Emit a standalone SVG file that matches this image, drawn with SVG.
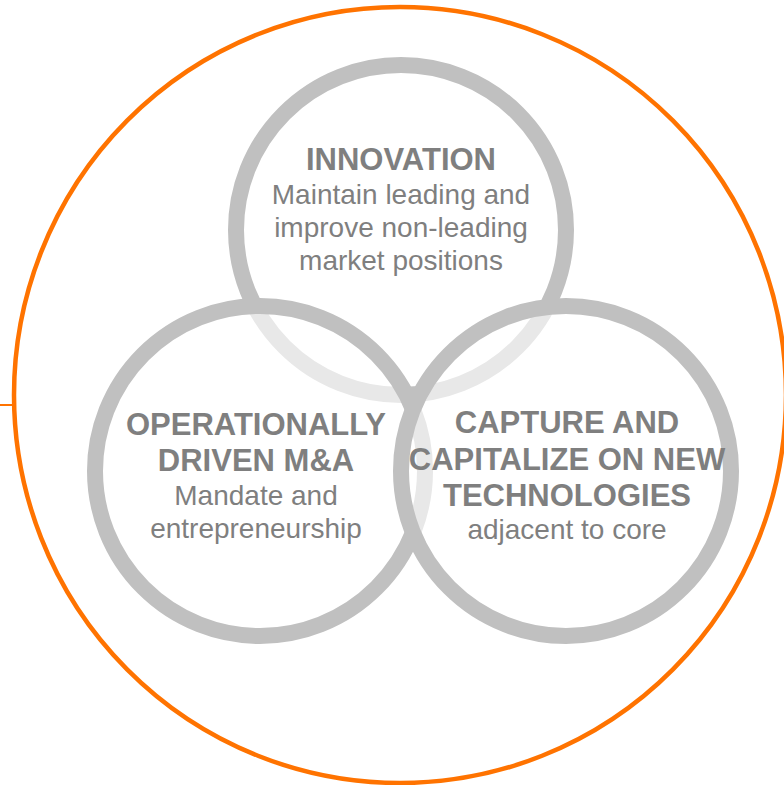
<svg xmlns="http://www.w3.org/2000/svg" width="784" height="785" viewBox="0 0 784 785">
<style>
.ring{fill:#ffffff;fill-opacity:0.63;stroke:#c0c0c0;stroke-width:16}
.h{font-family:"Liberation Sans",Arial,sans-serif;font-weight:bold;font-size:31px;fill:#7f7f7f;text-anchor:middle}
.t{font-family:"Liberation Sans",Arial,sans-serif;font-size:28px;fill:#7f7f7f;text-anchor:middle}
</style>
<rect width="784" height="785" fill="#ffffff"/>
<g id="outer">
<ellipse cx="400" cy="395" rx="386" ry="388" fill="none" stroke="#ff7300" stroke-width="4.5"/>
</g>
<g id="connectors">
<line x1="0" y1="405" x2="13" y2="405" stroke="#ff7300" stroke-width="2"/>
</g>
<g id="innovation-ring"><circle class="ring" cx="401" cy="230" r="165"/></g>
<g id="mna-ring"><circle class="ring" cx="260" cy="471" r="165"/></g>
<g id="tech-ring"><circle class="ring" cx="566" cy="471" r="165"/></g>
<g id="innovation">
<text class="h" x="401" y="170">INNOVATION</text>
<text class="t" x="401" y="204">Maintain leading and</text>
<text class="t" x="401" y="237">improve non-leading</text>
<text class="t" x="401" y="270">market positions</text>
</g>
<g id="mna">
<text class="h" x="256" y="435">OPERATIONALLY</text>
<text class="h" x="256" y="471">DRIVEN M&amp;A</text>
<text class="t" x="256" y="505">Mandate and</text>
<text class="t" x="256" y="538">entrepreneurship</text>
</g>
<g id="tech">
<text class="h" x="567" y="433">CAPTURE AND</text>
<text class="h" x="567" y="470">CAPITALIZE ON NEW</text>
<text class="h" x="567" y="506">TECHNOLOGIES</text>
<text class="t" x="567" y="539">adjacent to core</text>
</g>
</svg>
